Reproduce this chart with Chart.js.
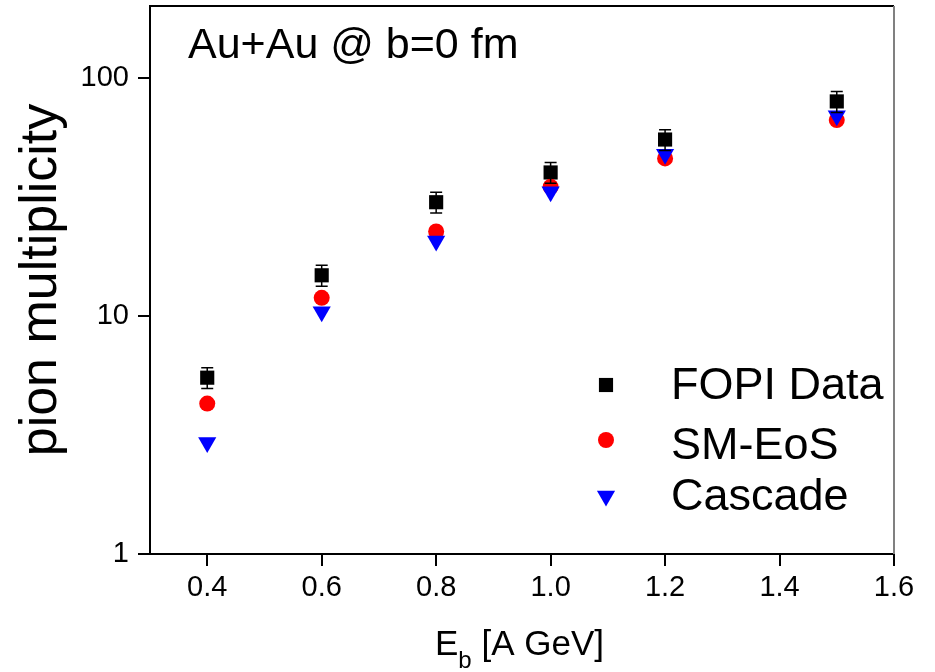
<!DOCTYPE html>
<html lang="en">
<head>
<meta charset="UTF-8">
<title>pion multiplicity</title>
<script src="https://cdn.jsdelivr.net/npm/chart.js"></script>
<style>
    html, body { margin: 0; padding: 0; background: #fff; }
    canvas { display: block; }
</style>
</head>
<body>
<canvas id="grafico" width="935" height="672"></canvas>
<script>
    // values
    const energias = [0.4, 0.6, 0.8, 1.0, 1.2, 1.5];
    const fopiDados = [5.5, 14.8, 30, 40, 55, 79.5];
    const fopiErros = [0.55, 1.5, 3, 4, 5.5, 8];
    const smEos = [4.28, 11.9, 22.6, 34.8, 45.8, 66.4];
    const cascata = [2.94, 10.4, 20.6, 33.2, 47.7, 69.2];
    const rotulosX = ['0.4', '0.6', '0.8', '1.0', '1.2', '1.4', '1.6'];
    const rotulosY = [1, 10, 100];
    const nomes = ['FOPI Data', 'SM-EoS', 'Cascade'];
    const titulo = 'Au+Au @ b=0 fm';

    const fonte = '"Liberation Sans", Arial, sans-serif';

    function pontos(valores) {
        return energias.map((e, i) => ({ x: e, y: valores[i] }));
    }

    const extras = {
        id: 'extras',
        afterDatasetsDraw(chart) {
            const ctx = chart.ctx;
            const x = chart.scales.x, y = chart.scales.y;
            // barras de erro
            ctx.save();
            ctx.strokeStyle = '#000';
            ctx.lineWidth = 1.5;
            energias.forEach((e, i) => {
                const px = x.getPixelForValue(e);
                const cima = y.getPixelForValue(fopiDados[i] + fopiErros[i]);
                const baixo = y.getPixelForValue(fopiDados[i] - fopiErros[i]);
                ctx.beginPath();
                ctx.moveTo(px, cima); ctx.lineTo(px, baixo);
                ctx.moveTo(px - 6, cima); ctx.lineTo(px + 6, cima);
                ctx.moveTo(px - 6, baixo); ctx.lineTo(px + 6, baixo);
                ctx.stroke();
            });
            ctx.restore();
        },
        afterDraw(chart) {
            const ctx = chart.ctx, area = chart.chartArea;
            const x = chart.scales.x, y = chart.scales.y;
            ctx.save();

            // moldura de cima e da direita
            ctx.lineWidth = 2;
            ctx.strokeStyle = '#000';
            ctx.beginPath();
            ctx.moveTo(area.left, area.top); ctx.lineTo(area.right, area.top);
            ctx.stroke();
            ctx.strokeStyle = '#808080';
            ctx.beginPath();
            ctx.moveTo(area.right, area.top); ctx.lineTo(area.right, area.bottom);
            ctx.stroke();

            // tracinhos dos eixos
            ctx.strokeStyle = '#000';
            ctx.beginPath();
            x.ticks.forEach(t => {
                const px = Math.round(x.getPixelForValue(t.value));
                const tam = t.label ? 12 : 7;
                ctx.moveTo(px, area.bottom); ctx.lineTo(px, area.bottom + tam);
            });
            y.ticks.forEach(t => {
                if (t.value > y.max) return;
                const py = Math.round(y.getPixelForValue(t.value));
                const tam = t.label ? 12 : 7;
                ctx.moveTo(area.left, py); ctx.lineTo(area.left - tam, py);
            });
            ctx.stroke();

            // titulo dentro do grafico
            ctx.fillStyle = '#000';
            ctx.textBaseline = 'alphabetic';
            ctx.textAlign = 'left';
            ctx.font = '43px ' + fonte;
            ctx.fillText(titulo, 188, 58);

            // titulo do eixo x com subscrito
            ctx.font = '35px ' + fonte;
            const xE = 435;
            ctx.fillText('E', xE, 655);
            const wE = ctx.measureText('E').width;
            ctx.font = '24px ' + fonte;
            ctx.fillText('b', xE + wE, 668);
            const wb = ctx.measureText('b').width;
            ctx.font = '35px ' + fonte;
            ctx.fillText(' [A GeV]', xE + wE + wb, 655);

            // legenda
            const linhas = [399, 459, 510];
            const marcas = [385, 440, 496];
            chart.data.datasets.forEach((ds, i) => {
                ctx.fillStyle = ds.backgroundColor;
                ctx.strokeStyle = ds.borderColor;
                Chart.helpers.drawPoint(ctx, {
                    pointStyle: ds.pointStyle,
                    radius: ds.pointRadius,
                    rotation: ds.rotation || 0,
                    borderWidth: 0
                }, 606, marcas[i]);
                ctx.fillStyle = '#000';
                ctx.font = '45px ' + fonte;
                ctx.fillText(ds.label, 671, linhas[i]);
            });
            ctx.restore();
        }
    };

    new Chart(document.getElementById('grafico'), {
        type: 'scatter',
        data: {
            datasets: [
                {
                    label: nomes[0],
                    data: pontos(fopiDados),
                    pointStyle: 'rect',
                    pointRadius: 10,
                    backgroundColor: '#000000',
                    borderColor: '#000000',
                    borderWidth: 0,
                    order: 3
                },
                {
                    label: nomes[1],
                    data: pontos(smEos),
                    pointStyle: 'circle',
                    pointRadius: 8,
                    backgroundColor: '#ff0000',
                    borderColor: '#ff0000',
                    borderWidth: 0,
                    order: 2
                },
                {
                    label: nomes[2],
                    data: pontos(cascata),
                    pointStyle: 'triangle',
                    rotation: 180,
                    pointRadius: 10.5,
                    backgroundColor: '#0000ff',
                    borderColor: '#0000ff',
                    borderWidth: 0,
                    order: 1
                }
            ]
        },
        options: {
            responsive: false,
            animation: false,
            devicePixelRatio: 1,
            layout: {
                autoPadding: false,
                padding: { top: 6, right: 41, bottom: 0, left: 0 }
            },
            plugins: {
                legend: { display: false },
                tooltip: { enabled: false }
            },
            scales: {
                x: {
                    type: 'linear',
                    min: 0.3,
                    max: 1.6,
                    // a grade fica escondida, tickLength so empurra os rotulos
                    grid: { display: false, drawTicks: true, tickLength: 17 },
                    border: { display: true, color: '#000', width: 2 },
                    ticks: {
                        stepSize: 0.1,
                        autoSkip: false,
                        maxRotation: 0,
                        padding: 0,
                        color: '#000',
                        font: { family: fonte, size: 29 },
                        callback: v => {
                            const s = v.toFixed(1);
                            return rotulosX.includes(s) ? s : null;
                        }
                    },
                    afterFit: s => {
                        s.height = 118;
                        s.paddingLeft = 0;
                        s.paddingRight = 0;
                    }
                },
                y: {
                    type: 'logarithmic',
                    min: 1,
                    max: 200,
                    grid: { display: false, drawTicks: true, tickLength: 21 },
                    border: { display: true, color: '#000', width: 2 },
                    ticks: {
                        autoSkip: false,
                        padding: 0,
                        color: '#000',
                        font: { family: fonte, size: 29 },
                        callback: v => rotulosY.includes(v) ? String(v) : null
                    },
                    title: {
                        display: true,
                        text: 'pion multiplicity',
                        color: '#000',
                        font: { family: fonte, size: 52 },
                        padding: { top: 10, bottom: 0 }
                    },
                    afterFit: s => {
                        s.width = 150;
                        s.paddingTop = 0;
                        s.paddingBottom = 0;
                    }
                }
            }
        },
        plugins: [extras]
    });
</script>
</body>
</html>
